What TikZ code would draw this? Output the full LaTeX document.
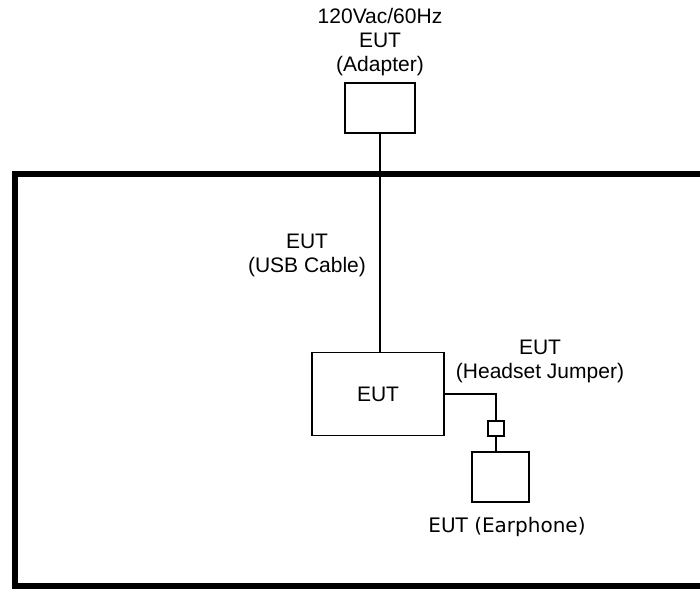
\documentclass[tikz,border=0pt]{standalone}
\usepackage{fontspec}
\setmainfont{Liberation Sans}
\newfontfamily\earfont{DejaVu Sans}
\begin{document}
\begin{tikzpicture}[x=1pt, y=-1pt,
  box/.style={shape=rectangle, draw, line width=1.6pt, inner sep=0pt},
  lbl/.style={align=center, inner sep=0pt, font=\fontsize{21}{24}\selectfont},
  wire/.style={line width=1.6pt}]
    \useasboundingbox (0,0) rectangle (700,588);
    \clip (0,0) rectangle (700,588);
    % test table
    \draw[line width=6pt] (15,174) rectangle (730,586);
    % units
    \node (adapter) at (380,108) [box, minimum width=70pt, minimum height=50pt] {};
    \node (eut) at (378,394) [box, minimum width=132pt, minimum height=83pt, font=\fontsize{21}{24}\selectfont] {EUT};
    \node (jumper) at (496,428.5) [box, minimum width=16pt, minimum height=15pt] {};
    \node (earphone) at (500.5,477) [box, minimum width=57pt, minimum height=50pt] {};
    % cables
    \draw[wire] (adapter.south) -- (adapter.south |- eut.north);
    \draw[wire] (eut.east) -| (jumper.north);
    \draw[wire] (jumper.south) -- (jumper.south |- earphone.north);
    % labels
    \node (adapterlbl) at (380,42) [lbl] {120Vac/60Hz\\EUT\\(Adapter)};
    \node (usblbl) at (307,255) [lbl] {EUT\\(USB Cable)};
    \node (jumperlbl) at (540,361) [lbl] {EUT\\(Headset Jumper)};
    \node (earlbl) at (507,527) [inner sep=0pt, font=\earfont\fontsize{20}{24}\selectfont] {EUT (Earphone)};
\end{tikzpicture}
\end{document}
